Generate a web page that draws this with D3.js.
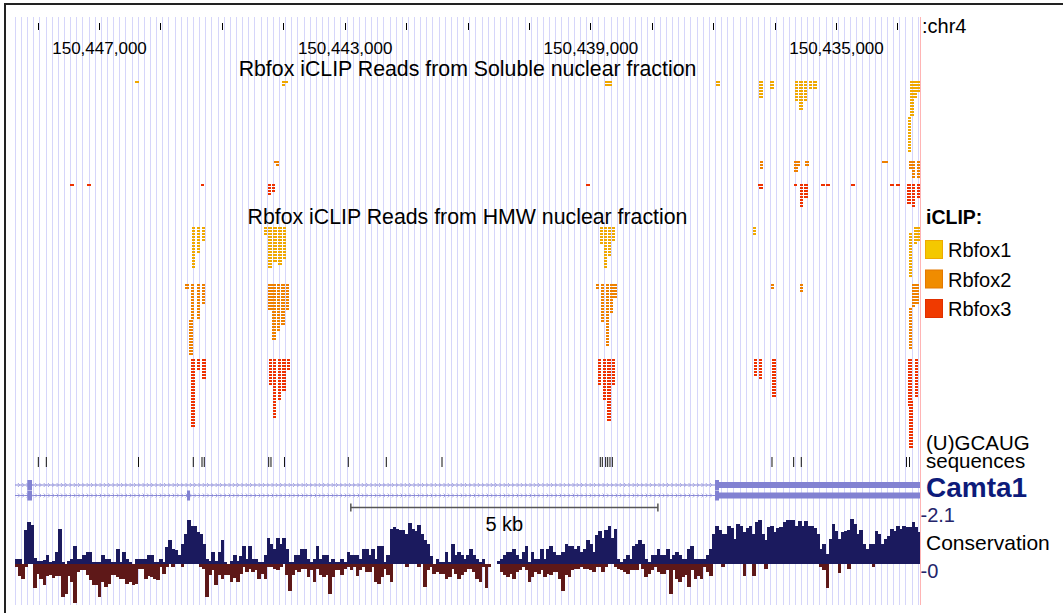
<!DOCTYPE html>
<html>
<head>
<meta charset="utf-8">
<script src="https://cdn.jsdelivr.net/npm/d3@7"></script>
<style>
body { margin: 0; background: #fff; }
svg text { font-family: "Liberation Sans", Arial, sans-serif; }
</style>
</head>
<body>
<svg id="chart" width="1063" height="613"></svg>
<script>
// view: chr4, minus strand orientation (coordinates decrease to the right)
var viewStart = 150448368, viewEnd = 150433632;
var tickLabels = ["150,447,000", "150,443,000", "150,439,000", "150,435,000"];
var labelPositions = [150447000, 150443000, 150439000, 150435000];

// iCLIP read piles: [position bp, number of stacked reads, first row]
var solRbfox1 = [[150446380,1],[150444000,2],[150443950,1],[150438730,2],[150438680,2],[150436920,2],
  [150436220,6],[150436040,3],[150435640,7],[150435570,10],[150435500,7],[150435420,3],[150435340,3],
  [150433760,12,0],[150433800,12,12],[150433710,6],[150433650,4]];
var solRbfox2 = [[150444130,1],[150444090,2],[150436210,3],[150435650,4],[150435610,2],[150435470,2],
  [150434220,1],[150434180,1],[150433790,3],[150433740,6],[150433650,6]];
var solRbfox3 = [[150447440,1],[150447160,1],[150445310,1],[150444220,4],[150444160,3],[150439040,1],
  [150436250,1],[150436220,2],[150435660,1],[150435560,8],[150435490,5],[150435210,1],[150435130,1],
  [150434720,1],[150434090,1],[150433990,1],[150433810,7],[150433740,8],[150433660,5]];
var hmwRbfox1 = [[150445465,14],[150445383,9],[150445302,5],[150444292,3],[150444216,14],[150444134,12],
  [150444053,13],[150443983,11],[150438815,6],[150438753,14],[150438683,10],[150438626,5],[150436327,3],
  [150433710,6],[150433787,15,2],[150433650,5]];
var hmwRbfox2 = [[150445567,2],[150445478,12,0],[150445500,12,12],[150445383,12],[150445302,7],
  [150444216,9],[150444150,19],[150444074,16],[150444007,14],[150443931,9],[150438883,2],[150438802,13],
  [150438721,21],[150438652,10],[150438598,5],[150436030,2],[150435558,3],[150433740,8],[150433680,7],
  [150433787,14,8]];
var hmwRbfox3 = [[150445470,23],[150445383,4],[150445290,7],[150444208,9],[150444139,20],[150444066,14],
  [150443985,11],[150443918,4],[150438854,9],[150438774,14],[150438693,21],[150438618,9],[150436310,6],
  [150436233,7],[150436010,13],[150433795,16],[150433690,13],[150433780,16,14]];

var legendNames = ["Rbfox1", "Rbfox2", "Rbfox3"];
var readColors = ["#f0a800", "#ee8000", "#ee3200"];
var legendColors = ["#f4c800", "#f08c00", "#f03a00"];
var legendStroke = ["#eeaa00", "#e47800", "#e03000"];

// (U)GCAUG motif sites
var motifSites = [150447988,150447858,150446357,150445465,150445323,150445286,150444237,150444200,
  150443980,150442941,150442322,150441415,150438838,150438805,150438750,150438717,150438680,150438642,
  150436042,150435689,150435565,150433852,150433803];

// Camta1 transcripts: exons [start, end, kind] (kind: "cds" full height, "utr" half height)
var camta1a = [[150448167,150448091,"cds"],[150436970,150436905,"cds"],[150436905,150433600,"utr"]];
var camta1b = [[150448167,150448091,"cds"],[150445567,150445518,"cds"],[150436970,150436905,"cds"],[150436905,150433600,"utr"]];

// Conservation, 50 bp bins starting at consStart
var consStart = 150448370, consStep = 50;
var consPos = [0.22,0.22,0,1.5,1.86,1.73,0.27,0.13,0.13,0.18,0.4,0.09,0.13,0.53,1.55,0.09,0,0.13,0.22,0.8,
  0.22,0.22,0.4,0.53,0.53,0.09,0.09,0.09,0.4,0.22,0.22,0.09,0.09,0.66,0.09,0.53,0.22,0.09,0,0.22,
  0.22,0.22,0.22,0.4,0.4,0.09,0.09,0.22,0.09,0.75,1.06,0.66,0.62,0.4,0.88,1.33,1.95,1.68,1.68,1.42,
  1.33,0.88,0.22,0.13,0.53,0.13,0.53,1.06,0.09,0,0.13,0.4,0.13,0.35,0.8,0.22,0.8,0.22,0.22,0.09,
  0.09,0.4,1.15,0.88,0.66,1.15,0.88,1.15,0.66,0.09,0.09,0.4,0.4,0.66,0.66,0.22,0.09,0.22,0.8,0.22,
  0.4,0.4,0.09,0.22,0.09,0.09,0.22,0.09,0.53,0.4,0.4,0.4,0.22,0.66,0.66,0.4,0.66,0.22,0.8,0.8,
  0.09,0.4,1.55,1.64,1.55,1.5,1.5,1.33,1.81,1.55,1.46,1.73,1.33,1.06,0.88,0.35,0,0.22,0.09,0.09,
  0.53,0.09,0.88,0.4,0.53,0.4,0.22,0.4,0.66,0.4,0.22,0.09,0.22,0,0,0,0,0.13,0.22,0.4,
  0.53,0.53,0.66,0.4,0.22,0.53,0.8,0.09,0.53,0.22,0.22,0.66,0.22,0.66,0.8,0.53,0.4,0.4,0.53,0.88,
  0.8,0.8,0.66,0.8,0.53,0.66,1.06,0.88,0.53,1.28,1.46,1.15,1.5,1.68,1.15,1.55,0.22,0.09,0.22,0.4,
  0.22,0.8,0.88,1.06,0.88,0.22,0.09,0.4,0.4,0.66,0.4,0.4,0.66,0.22,0.4,0.53,0.4,0.22,0.22,0.66,
  0.8,0.22,0.22,0.22,0.22,0.4,0.66,1.33,1.68,1.5,1.33,1.33,1.68,1.59,1.1,1.77,1.68,1.42,1.59,1.68,
  1.33,1.86,1.95,1.33,1.06,1.64,1.68,1.42,1.59,1.64,1.86,1.95,1.95,1.95,1.68,1.9,1.68,1.9,1.68,1.68,
  1.59,1.33,0.66,0.88,0.44,1.1,1.77,1.46,1.1,1.42,1.46,1.5,1.99,1.77,1.33,1.5,0.88,0.66,0.88,0.88,
  1.46,1.33,0.88,1.1,1.24,1.55,1.46,1.68,1.55,1.68,1.64,1.64,1.86,1.64,1.42];
var consNeg = [-0.13,-0.53,-0.66,-0.13,0,0,-1.06,-0.44,-0.66,-0.93,-0.53,-0.49,-0.62,-0.53,-0.53,-1.46,-1.33,-0.53,-0.8,-1.73,
  -0.35,-0.27,-0.27,-0.49,-0.71,-0.93,-0.93,-1.46,-0.8,-1.02,-0.88,-0.49,-0.49,-0.58,-0.66,-0.66,-0.88,-0.8,-0.93,-0.88,
  -0.22,-0.22,-0.66,-0.53,-0.58,-0.66,-0.71,-0.13,-0.44,-0.13,0,-0.13,0,0,-0.13,0,0,0,0,0,
  -0.13,-0.22,-1.46,-0.49,-0.27,-0.93,-0.49,-0.66,-0.49,-0.49,-0.8,-0.62,-0.8,-0.44,-0.13,-0.35,-0.22,-0.35,-0.27,-0.66,
  -0.44,-0.66,-0.13,-0.13,-0.22,-0.27,-0.13,0,-0.49,-1.19,-0.49,-0.27,-0.35,-0.22,-0.22,-0.58,-0.27,-0.8,-0.22,-0.49,
  -0.58,-0.49,-1.33,-0.58,-0.27,-0.27,-0.49,-0.22,-0.13,-0.27,-0.13,-0.53,-0.27,-0.13,-0.35,-0.35,-0.13,-0.8,-0.88,-0.58,
  -0.22,-0.49,-0.8,0,0,0,0,-0.13,0,0,0,-0.13,0,-1.02,-0.27,-0.13,-0.44,-0.35,-0.44,-0.44,
  -0.66,-0.58,-0.22,-0.44,-0.66,-0.49,-0.35,-0.22,-0.22,-0.35,-0.66,-0.8,-0.13,-1.06,-0.13,0,0,0,-0.35,-0.49,
  -0.58,-0.44,-0.66,-0.35,-0.27,-0.13,-0.27,-0.8,-0.58,-0.35,-0.44,-0.27,-0.58,-0.44,-0.49,-0.35,-0.35,-0.66,-1.19,-0.49,
  -0.58,-0.27,-0.22,-0.22,-0.13,-0.22,-0.22,-0.27,-0.35,-0.13,-0.13,-0.35,-0.13,0,0,-0.13,-0.22,-0.27,-0.35,-0.44,
  -0.27,-0.27,-0.27,0,-0.22,-0.58,-0.44,-0.27,-0.13,-0.35,-0.44,-0.44,-0.27,-1.33,-0.27,-0.66,-0.8,-0.58,-0.49,-1.02,
  -0.27,-0.66,-0.53,-0.66,-0.13,-0.35,-0.53,0,0,0,-0.13,0,0,0,0,0,0,-0.53,0,0,
  -0.53,0,0,0,-0.22,0,0,0,0,0,0,0,0,0,0,0,0,0,0,0,
  0,0,-0.13,-0.27,-1.06,0,0,0,-0.4,0,0,-0.22,0,0,0,0,0,0,0,-0.13,
  0,0,0,0,0,0,0,0,0,0,0,0,0,0,0];

var svg = d3.select("#chart");
var x = d3.scaleLinear().domain([viewStart, viewEnd]).range([15, 920]);
var left = 15, right = 920;

// frame
svg.append("rect").attr("x", 5).attr("y", 4).attr("width", 1063).attr("height", 620)
  .attr("fill", "none").attr("stroke", "#222").attr("stroke-width", 2);

// blue guide lines every 100 bp
svg.append("g").selectAll("line")
  .data(d3.range(150448370, viewEnd, -100))
  .join("line")
  .attr("x1", d => Math.round(x(d)) + 0.5).attr("x2", d => Math.round(x(d)) + 0.5)
  .attr("y1", 17).attr("y2", 605)
  .attr("stroke", "#d6d6fa").attr("stroke-width", 1);

// base position axis
var axis = d3.axisBottom(x)
  .tickValues(d3.range(150448000, viewEnd, -1000))
  .tickSizeInner(7).tickSizeOuter(0).tickPadding(12)
  .tickFormat(d => { var i = labelPositions.indexOf(d); return i < 0 ? "" : tickLabels[i]; });
var ax = svg.append("g").attr("transform", "translate(0,23)").call(axis);
ax.select(".domain").remove();
ax.selectAll("line").attr("stroke", "#000").attr("shape-rendering", "crispEdges");
ax.selectAll("text").attr("font-size", 17).attr("fill", "#000")
  .style("font-family", "'Liberation Sans', Arial, sans-serif");

svg.append("text").attr("x", 922).attr("y", 33).attr("font-size", 20).text(":chr4");

// track titles
svg.append("text").attr("x", (left + right) / 2).attr("y", 76).attr("text-anchor", "middle")
  .attr("font-size", 21.3).text("Rbfox iCLIP Reads from Soluble nuclear fraction");
svg.append("text").attr("x", (left + right) / 2).attr("y", 224).attr("text-anchor", "middle")
  .attr("font-size", 21.3).text("Rbfox iCLIP Reads from HMW nuclear fraction");

// read tracks
var readTracks = [
  { data: solRbfox1, top: 81, color: readColors[0] },
  { data: solRbfox2, top: 161, color: readColors[1] },
  { data: solRbfox3, top: 184, color: readColors[2] },
  { data: hmwRbfox1, top: 227, color: readColors[0] },
  { data: hmwRbfox2, top: 284, color: readColors[1] },
  { data: hmwRbfox3, top: 359, color: readColors[2] }
];
var rowPitch = 3, readH = 2, readLen = 55;
readTracks.forEach(function (t) {
  var g = svg.append("g").attr("shape-rendering", "crispEdges");
  t.data.forEach(function (p) {
    var first = p[2] || 0;
    var x0 = Math.round(x(p[0] + readLen / 2)), x1 = Math.round(x(p[0] - readLen / 2));
    g.selectAll(null).data(d3.range(first, first + p[1])).join("rect")
      .attr("x", x0).attr("width", Math.max(2, x1 - x0))
      .attr("y", r => t.top + r * rowPitch).attr("height", readH)
      .attr("fill", t.color);
  });
});

// legend
svg.append("text").attr("x", 926).attr("y", 224).attr("font-size", 19.5)
  .attr("font-weight", "bold").text("iCLIP:");
var lg = svg.append("g").selectAll("g").data(legendNames).join("g")
  .attr("transform", (d, i) => "translate(925," + (240 + i * 29.5) + ")");
lg.append("rect").attr("x", 0.5).attr("y", 0.5).attr("width", 17).attr("height", 18)
  .attr("fill", (d, i) => legendColors[i]).attr("stroke", (d, i) => legendStroke[i]);
lg.append("text").attr("x", 23).attr("y", 17).attr("font-size", 20).text(d => d);

// motif sites
svg.append("g").selectAll("line").data(motifSites).join("line")
  .attr("x1", d => x(d)).attr("x2", d => x(d)).attr("y1", 457).attr("y2", 467)
  .attr("stroke", "#111").attr("stroke-width", 1);
svg.append("text").attr("x", 926).attr("y", 450).attr("font-size", 20.5).text("(U)GCAUG");
svg.append("text").attr("x", 926).attr("y", 468).attr("font-size", 20.5).text("sequences");

// gene track
[camta1a, camta1b].forEach(function (exons, k) {
  var cy = k === 0 ? 485 : 495.5;
  var g = svg.append("g");
  g.append("line").attr("x1", left).attr("x2", right).attr("y1", cy).attr("y2", cy)
    .attr("stroke", "#8686d4").attr("stroke-width", 1.2);
  g.selectAll("path").data(d3.range(150448300, 150436970, -70)).join("path")
    .attr("d", d => "M" + (x(d) - 1.3) + "," + (cy - 2) + "L" + (x(d) + 0.7) + "," + cy + "L" + (x(d) - 1.3) + "," + (cy + 2))
    .attr("fill", "none").attr("stroke", "#a8a8e4").attr("stroke-width", 1);
  g.selectAll("rect").data(exons).join("rect")
    .attr("x", d => x(d[0])).attr("width", d => Math.min(right, x(d[1])) - x(d[0]))
    .attr("y", d => d[2] === "cds" ? cy - 5 : cy - 3)
    .attr("height", d => d[2] === "cds" ? 10 : 6)
    .attr("fill", "#8282d2");
});
svg.append("text").attr("x", 926).attr("y", 497).attr("font-size", 28)
  .attr("font-weight", "bold").attr("fill", "#0d1b7a").text("Camta1");

// scale bar
var sbCenter = 150440400, sbLen = 5000;
var sbx0 = x(sbCenter + sbLen / 2), sbx1 = x(sbCenter - sbLen / 2);
var sb = svg.append("g").attr("stroke", "#555").attr("stroke-width", 1.5);
sb.append("line").attr("x1", sbx0).attr("x2", sbx1).attr("y1", 507.5).attr("y2", 507.5);
sb.append("line").attr("x1", sbx0).attr("x2", sbx0).attr("y1", 503.5).attr("y2", 511.5);
sb.append("line").attr("x1", sbx1).attr("x2", sbx1).attr("y1", 503.5).attr("y2", 511.5);
svg.append("text").attr("x", (sbx0 + sbx1) / 2).attr("y", 531).attr("text-anchor", "middle")
  .attr("font-size", 20).text("5 kb");

// conservation
var y = d3.scaleLinear().domain([0, 2.1]).range([564, 516.5]);
var binX = i => x(consStart - i * consStep);
var cg = svg.append("g").attr("shape-rendering", "crispEdges");
cg.selectAll(".pos").data(consPos).join("rect").attr("class", "pos")
  .attr("x", (d, i) => binX(i)).attr("width", (d, i) => Math.min(right, binX(i + 1) + 0.6) - binX(i))
  .attr("y", d => y(d)).attr("height", d => y(0) - y(d)).attr("fill", "#1b1a5e");
cg.selectAll(".neg").data(consNeg).join("rect").attr("class", "neg")
  .attr("x", (d, i) => binX(i)).attr("width", (d, i) => Math.min(right, binX(i + 1) + 0.6) - binX(i))
  .attr("y", y(0)).attr("height", d => y(d) - y(0)).attr("fill", "#5e1818");

svg.append("text").attr("x", 920.5).attr("y", 522).attr("font-size", 20).attr("fill", "#24246a").text("-2.1");
svg.append("text").attr("x", 926).attr("y", 550).attr("font-size", 21).text("Conservation");
svg.append("text").attr("x", 920.5).attr("y", 578).attr("font-size", 20).attr("fill", "#24246a").text("-0");

// right edge of the image region
svg.append("line").attr("x1", right + 0.5).attr("x2", right + 0.5).attr("y1", 17).attr("y2", 605)
  .attr("stroke", "#ffb4b4").attr("stroke-width", 1);
</script>
</body>
</html>
